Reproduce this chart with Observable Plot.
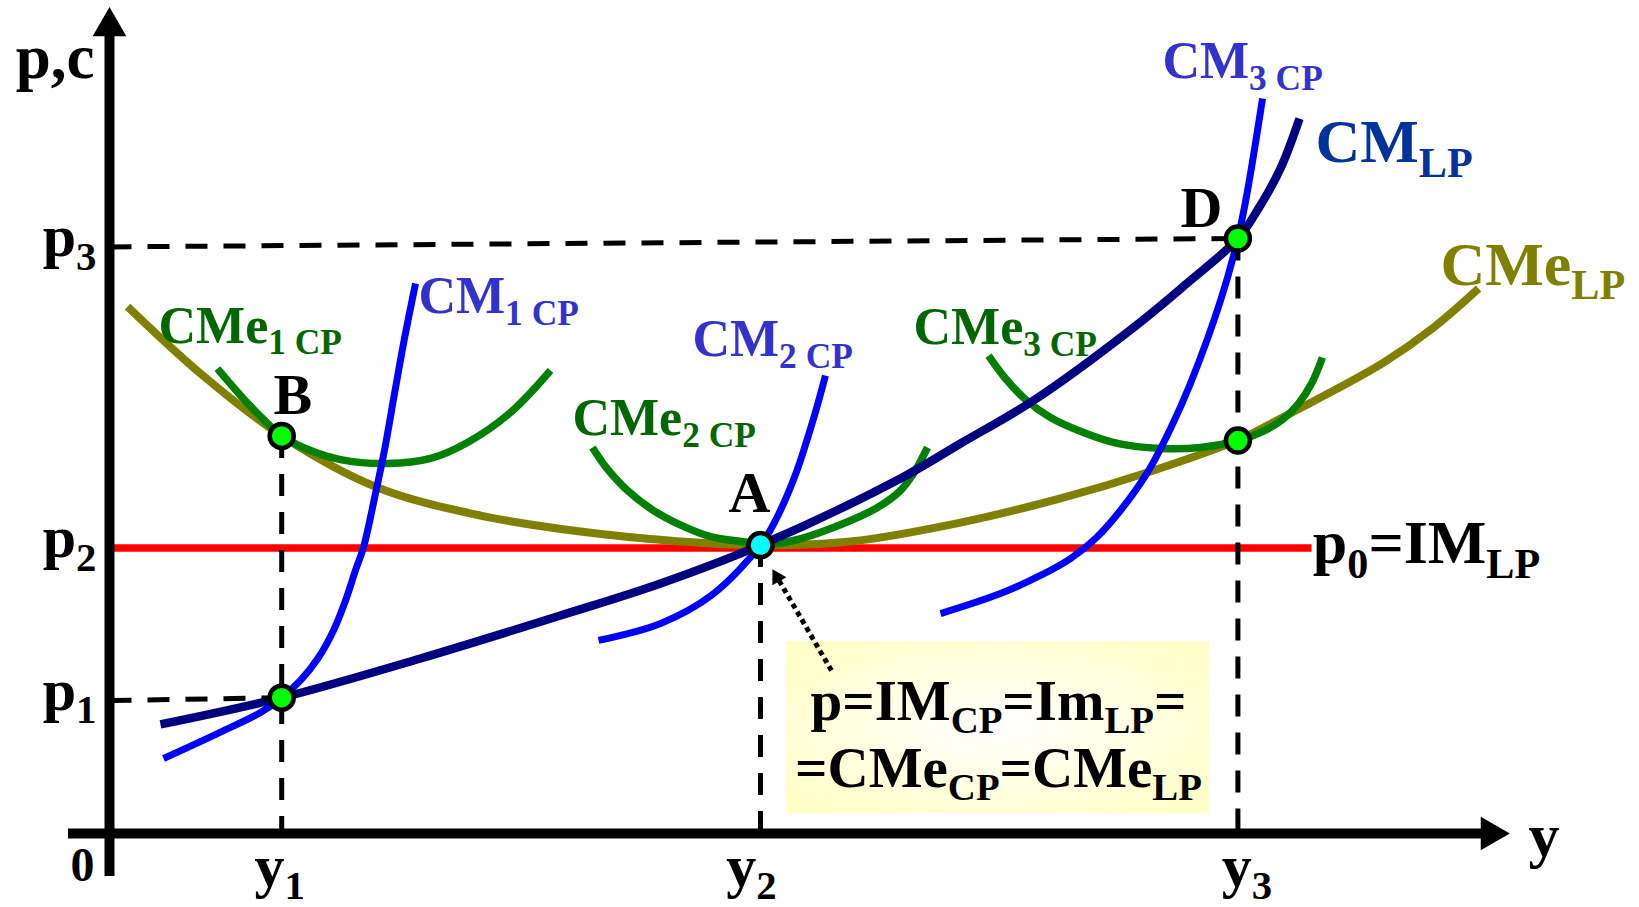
<!DOCTYPE html>
<html><head><meta charset="utf-8">
<script src="https://cdn.jsdelivr.net/npm/d3@7"></script>
<script src="https://cdn.jsdelivr.net/npm/@observablehq/plot@0.6"></script>
<style>html,body{margin:0;padding:0;background:#fff;} svg{display:block;}</style>
</head><body><div id="chart"></div>
<script>
// ---- levels (price / cost) and quantities ----
const p1 = 9.5, p2 = 20.4, p3 = 41.9;
const q1 = 12.3, q2 = 46.5, q3 = 80.6;

// ---- curves ----
const CMe_LP = [[1.29,37.64],[6.5,32.86],[12.3,28.4],[19.14,24.71],[26.5,22.71],[33.64,21.57],[40.79,20.86],[46.5,20.6],[52.93,20.86],[60.79,22.21],[67.93,23.93],[74.14,25.79],[80.6,28.1],[83.64,29.64],[86.5,31.14],[91.0,33.64],[94.57,36.14],[97.79,38.93]];
const CM_LP = [[3.64,7.79],[12.3,9.7],[22.21,12.5],[32.21,15.57],[39.36,17.86],[46.5,20.6],[56.5,25.36],[60.79,27.86],[66.0,30.93],[73.14,36.14],[76.86,39.21],[80.6,42.5],[82.07,44.64],[83.64,47.5],[85.0,51.07]];
const CM1_CP = [[3.86,5.36],[7.71,7.14],[10.79,8.64],[12.3,9.7],[13.64,10.93],[14.93,12.57],[16.0,14.5],[16.86,16.64],[17.57,18.79],[18.14,20.43],[19.0,24.29],[19.64,27.36],[20.36,31.43],[21.07,35.36],[21.86,39.29]];
const CMe1_CP = [[7.71,33.21],[9.36,31.29],[10.93,29.64],[12.3,28.4],[14.0,27.5],[16.5,26.71],[19.86,26.43],[22.93,26.79],[25.57,27.93],[28.64,30.07],[31.5,33.07]];
const CM2_CP = [[34.93,13.79],[39.36,15.0],[43.07,17.07],[46.5,20.6],[47.57,22.36],[49.0,25.64],[50.29,29.64],[51.14,32.71]];
const CMe2_CP = [[34.5,27.57],[35.43,26.21],[37.0,24.5],[38.86,23.07],[40.57,22.14],[42.93,21.21],[45.57,20.79],[46.5,20.6],[48.86,20.93],[51.71,21.86],[54.86,23.29],[56.5,24.5],[57.43,25.71],[58.43,27.57]];
const CM3_CP = [[59.36,15.71],[63.64,17.14],[66.5,18.43],[68.64,19.64],[70.43,21.07],[72.21,23.07],[74.14,25.79],[75.79,28.93],[77.21,32.14],[79.36,38.07],[80.6,42.5],[81.29,45.93],[82.36,52.5]];
const CMe3_CP = [[62.79,34.14],[64.0,32.5],[65.43,31.0],[67.21,29.71],[69.57,28.64],[72.0,27.86],[75.07,27.5],[77.93,27.57],[80.6,28.07],[82.36,28.71],[83.79,29.57],[84.93,30.71],[85.86,32.14],[86.64,34.0]];
const IM_LP = {from: 0, to: 85.9, level: p2};

// ---- key points ----
const pointsGreen = [{label:"B", x:q1, y:28.4}, {label:"D", x:q3, y:42.5}, {label:"", x:q3, y:28.07}, {label:"", x:q1, y:9.7}];
const pointA = [{label:"A", x:q2, y:20.6}];

// ---- dashed guides ----
const guides = [
  {x1:0, y1:p3, x2:q3, y2:42.5},
  {x1:0, y1:p1, x2:q1, y2:9.7},
  {x1:q1, y1:28.4, x2:q1, y2:0},
  {x1:q2, y1:20.6, x2:q2, y2:0},
  {x1:q3, y1:42.5, x2:q3, y2:0}
];

// ---- axes extent ----
const axisX = {from:-2.93, to:98.64};
const axisY = {from:-3.07, to:57.64};

// ---- tick labels ----
const yTickLabels = [{label:"p_{1}", v:p1}, {label:"p_{2}", v:p2}, {label:"p_{3}", v:p3}];
const xTickLabels = [{label:"y_{1}", v:q1}, {label:"y_{2}", v:q2}, {label:"y_{3}", v:q3}];
const xTickDx = [-2, -9, 9];

// ---- curve labels ----
const labelsCM = [{text:"CM_{1 CP}", x:22.07, y:37.21}, {text:"CM_{2 CP}", x:41.64, y:34.14}, {text:"CM_{3 CP}", x:75.21, y:53.93}];
const labelsCMe = [{text:"CMe_{1 CP}", x:3.5, y:35.07}, {text:"CMe_{2 CP}", x:33.07, y:28.43}, {text:"CMe_{3 CP}", x:57.43, y:34.93}];
const labelCMLP = [{text:"CM_{LP}", x:86.14, y:47.93}];
const labelCMeLP = [{text:"CMe_{LP}", x:95.07, y:39.21}];
const labelIM = [{text:"p_{0}=IM_{LP}", x:85.95, y:19.3}];
const pointLabels = [{text:"A", x:44.21, y:22.93}, {text:"B", x:11.71, y:29.93}, {text:"D", x:76.5, y:43.29}];

// ---- annotation box ----
const box = {x1:48.36, x2:78.57, y1:1.43, y2:13.71};
const boxLines = [{text:"p=IM_{CP}=Im_{LP}=", x:63.5, y:8.14}, {text:"=CMe_{CP}=CMe_{LP}", x:63.5, y:3.3}];
const pointer = {tail:[51.57, 11.64], tip:[47.36, 18.86]};

// ---------------------------------------------------------------
const FONT = "Liberation Serif, Times New Roman, serif";
const curve = (data, stroke, sw) => Plot.line(data, {x: d => d[0], y: d => d[1], stroke, strokeWidth: sw, curve: "catmull-rom", strokeLinecap: "butt"});
const txt = (data, o) => Plot.text(data, {x:"x", y:"y", text:"text", fontFamily: FONT, fontWeight: "bold", lineAnchor: "bottom", textAnchor: "start", ...o});

// pointer geometry (scale is 14px per unit on both axes)
const ux = pointer.tail[0]-pointer.tip[0], uy = pointer.tail[1]-pointer.tip[1];
const ulen = Math.hypot(ux, uy);
const back = 9/14;
const headC = [pointer.tip[0] + ux/ulen*back, pointer.tip[1] + uy/ulen*back];
const headRot = Math.atan2(-ux*14, uy*14) * 180/Math.PI;

const chart = Plot.plot({
  width: 1639, height: 907, margin: 0,
  style: {background: "#fff", overflow: "visible"},
  x: {domain: [0, 100], range: [109, 1509], axis: null},
  y: {domain: [0, 59], range: [833, 7], axis: null},
  marks: [
    Plot.rect([box], {x1:"x1", x2:"x2", y1:"y1", y2:"y2", fill: "url(#boxgrad)"}),
    Plot.ruleY([IM_LP], {y:"level", x1:"from", x2:"to", stroke:"#ff0000", strokeWidth:7.5}),
    curve(CMe_LP, "#808000", 8),
    curve(CMe1_CP, "#008000", 7.5),
    curve(CMe2_CP, "#008000", 7.5),
    curve(CMe3_CP, "#008000", 7.5),
    curve(CM1_CP, "#0000ff", 7),
    curve(CM2_CP, "#0000ff", 7),
    curve(CM3_CP, "#0000ff", 7),
    curve(CM_LP, "#000080", 8.5),
    Plot.link(guides, {x1:"x1", y1:"y1", x2:"x2", y2:"y2", stroke:"#000", strokeWidth:5, strokeDasharray:"22,16"}),
    Plot.link([{a:pointer.tail, b:headC}], {x1: d=>d.a[0], y1: d=>d.a[1], x2: d=>d.b[0], y2: d=>d.b[1], stroke:"#000", strokeWidth:5, strokeDasharray:"5,4"}),
    Plot.dot([headC], {x: d=>d[0], y: d=>d[1], symbol:"triangle", r:6, fill:"#000", rotate: headRot}),
    Plot.ruleX([0], {y1: axisY.from, y2: axisY.to, stroke:"#000", strokeWidth:10}),
    Plot.ruleY([0], {x1: axisX.from, x2: axisX.to, stroke:"#000", strokeWidth:10}),
    Plot.dot([{x:0, y:axisY.to}], {x:"x", y:"y", symbol:"triangle", r:12.5, fill:"#000", rotate:0}),
    Plot.dot([{x:axisX.to, y:0}], {x:"x", y:"y", symbol:"triangle", r:12.5, fill:"#000", rotate:90}),
    Plot.dot(pointsGreen, {x:"x", y:"y", r:12, fill:"#00ff00", stroke:"#000", strokeWidth:4.5}),
    Plot.dot(pointA, {x:"x", y:"y", r:12, fill:"#00ffff", stroke:"#000", strokeWidth:4.5}),
    // axis texts
    Plot.text(yTickLabels, {x: () => 0, y:"v", text:"label", textAnchor:"end", dx:-13, dy:9, fontSize:60, fontFamily:FONT, fontWeight:"bold", lineAnchor:"bottom", fill:"#000"}),
    ...xTickLabels.map((t,i) => Plot.text([t], {x:"v", y: () => 0, text:"label", textAnchor:"middle", dx:xTickDx[i], dy:52, fontSize:60, fontFamily:FONT, fontWeight:"bold", lineAnchor:"bottom", fill:"#000"})),
    Plot.text(["0"], {x: () => 0, y: () => 0, text: d => d, textAnchor:"middle", dx:-27, dy:47, fontSize:48, fontFamily:FONT, fontWeight:"bold", lineAnchor:"bottom", fill:"#000"}),
    Plot.text(["y"], {x: () => 101.36, y: () => 0, text: d => d, textAnchor:"start", dy:22, fontSize:62, fontFamily:FONT, fontWeight:"bold", lineAnchor:"bottom", fill:"#000"}),
    Plot.text(["p,c"], {x: () => 0, y: () => 53.93, text: d => d, textAnchor:"end", dx:-15, fontSize:63, fontFamily:FONT, fontWeight:"bold", lineAnchor:"bottom", fill:"#000"}),
    // curve labels
    txt(labelsCM, {fontSize:52, fill:"#3333cc"}),
    txt(labelsCMe, {fontSize:52, fill:"#006600"}),
    txt(labelCMLP, {fontSize:62, fill:"#003399"}),
    txt(labelCMeLP, {fontSize:62, fill:"#808000"}),
    txt(labelIM, {fontSize:62, fill:"#000"}),
    txt(pointLabels, {fontSize:58, fill:"#000"}),
    txt(boxLines, {fontSize:57, fill:"#000", textAnchor:"middle"})
  ]
});

document.getElementById("chart").append(chart);

// gradient for the annotation box
const ns = "http://www.w3.org/2000/svg";
const defs = document.createElementNS(ns, "defs");
defs.innerHTML = '<radialGradient id="boxgrad" cx="50%" cy="50%" r="65%"><stop offset="0%" stop-color="#ffffff"/><stop offset="100%" stop-color="#ffffc6"/></radialGradient>';
chart.prepend(defs);

// baseline alignment and subscripts
chart.querySelectorAll("text").forEach(el => {
  for (const a of ["y", "dy"]) {
    const v = el.getAttribute(a);
    if (v && /em$/.test(v)) el.setAttribute(a, "0");
  }
  const t = el.textContent;
  if (!t.includes("_{")) return;
  const fs = parseFloat(getComputedStyle(el).fontSize);
  const shift = 0.23 * fs;
  el.textContent = "";
  let shifted = false;
  for (const part of t.split(/(_\{[^}]*\})/)) {
    if (!part) continue;
    const ts = document.createElementNS(ns, "tspan");
    if (part.startsWith("_{")) {
      ts.textContent = part.slice(2, -1);
      ts.setAttribute("font-size", (fs * 0.68).toFixed(1));
      ts.setAttribute("dy", shifted ? 0 : shift);
      shifted = true;
    } else {
      ts.textContent = part;
      if (shifted) { ts.setAttribute("dy", -shift); shifted = false; }
    }
    el.appendChild(ts);
  }
});
</script>
</body></html>
